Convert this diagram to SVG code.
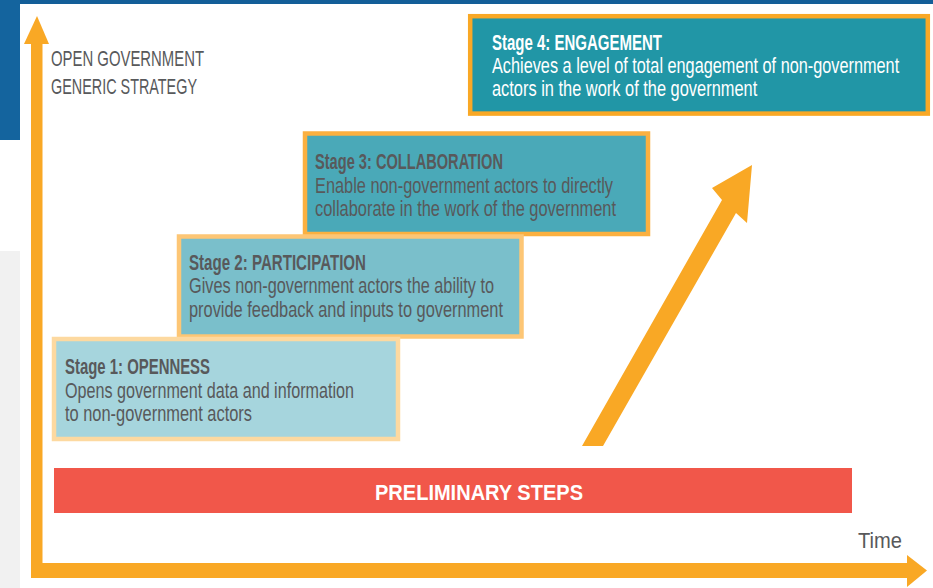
<svg xmlns="http://www.w3.org/2000/svg" width="933" height="588" viewBox="0 0 933 588">
<style>
  .t { font-family: "Liberation Sans", Arial, sans-serif; font-size: 22px; fill: #58595B; }
  .b { font-weight: bold; }
  .w { fill: #FFFFFF; }
  .axis { fill: #F9A825; }
</style>
<rect x="0" y="0" width="933" height="588" fill="#FFFFFF"/>
<g id="background">
  <rect x="0" y="0" width="933" height="4" fill="#135E98"/>
  <rect x="0" y="0" width="20" height="140" fill="#14649E"/>
  <rect x="0" y="251" width="20" height="337" fill="#F1F1F1"/>
</g>
<g id="axes">
  <rect class="axis" x="31" y="40" width="11.5" height="538"/>
  <polygon class="axis" points="37,16 49,44 24,44"/>
  <rect class="axis" x="31" y="563" width="880" height="15"/>
  <polygon class="axis" points="927,570.5 907,555 907,587"/>
  <text class="t" x="51" y="66" textLength="153" lengthAdjust="spacingAndGlyphs">OPEN GOVERNMENT</text>
  <text class="t" x="51" y="94" textLength="146" lengthAdjust="spacingAndGlyphs">GENERIC STRATEGY</text>
  <text class="t" x="858" y="548" font-size="29" textLength="44" lengthAdjust="spacingAndGlyphs">Time</text>
</g>
<g id="connectors">
  <polygon class="axis" points="582,446 722,200 712,188 752,165 747,223 736,213 603,446"/>
</g>
<g id="stage4">
  <rect x="470.2" y="16.2" width="457.6" height="97.4" fill="#2196A6" stroke="#F9A825" stroke-width="4.5"/>
  <g transform="translate(492,0) scale(0.78,1)">
    <text class="t b w" x="0" y="50" textLength="218" lengthAdjust="spacingAndGlyphs">Stage 4: ENGAGEMENT</text>
    <text class="t w" x="0" y="73" textLength="522" lengthAdjust="spacingAndGlyphs">Achieves a level of total engagement of non-government</text>
    <text class="t w" x="0" y="96" textLength="340" lengthAdjust="spacingAndGlyphs">actors in the work of the government</text>
  </g>
</g>
<g id="stage3">
  <rect x="305" y="133.5" width="343" height="100.5" fill="#4AA9B8" stroke="#FBB040" stroke-width="4.5"/>
  <text class="t b" x="315" y="169" textLength="188" lengthAdjust="spacingAndGlyphs">Stage 3: COLLABORATION</text>
  <text class="t" x="315" y="193" textLength="298" lengthAdjust="spacingAndGlyphs">Enable non-government actors to directly</text>
  <text class="t" x="315" y="216" textLength="301" lengthAdjust="spacingAndGlyphs">collaborate in the work of the government</text>
</g>
<g id="stage2">
  <rect x="179" y="236.5" width="342.5" height="100" fill="#7ABFCB" stroke="#FDC675" stroke-width="4.5"/>
  <text class="t b" x="189" y="270" textLength="177" lengthAdjust="spacingAndGlyphs">Stage 2: PARTICIPATION</text>
  <text class="t" x="189" y="293" textLength="305" lengthAdjust="spacingAndGlyphs">Gives non-government actors the ability to</text>
  <text class="t" x="189" y="317" textLength="314" lengthAdjust="spacingAndGlyphs">provide feedback and inputs to government</text>
</g>
<g id="stage1">
  <rect x="54" y="339" width="344" height="100" fill="#A6D5DD" stroke="#FDD9A0" stroke-width="4.5"/>
  <text class="t b" x="65" y="374" textLength="145" lengthAdjust="spacingAndGlyphs">Stage 1: OPENNESS</text>
  <text class="t" x="65" y="398" textLength="289" lengthAdjust="spacingAndGlyphs">Opens government data and information</text>
  <text class="t" x="65" y="421" textLength="187" lengthAdjust="spacingAndGlyphs">to non-government actors</text>
</g>
<g id="preliminary">
  <rect x="54" y="468" width="798" height="45" fill="#F1574A"/>
  <text class="t b w" x="375" y="500" font-size="30" textLength="208" lengthAdjust="spacingAndGlyphs">PRELIMINARY STEPS</text>
</g>
</svg>
